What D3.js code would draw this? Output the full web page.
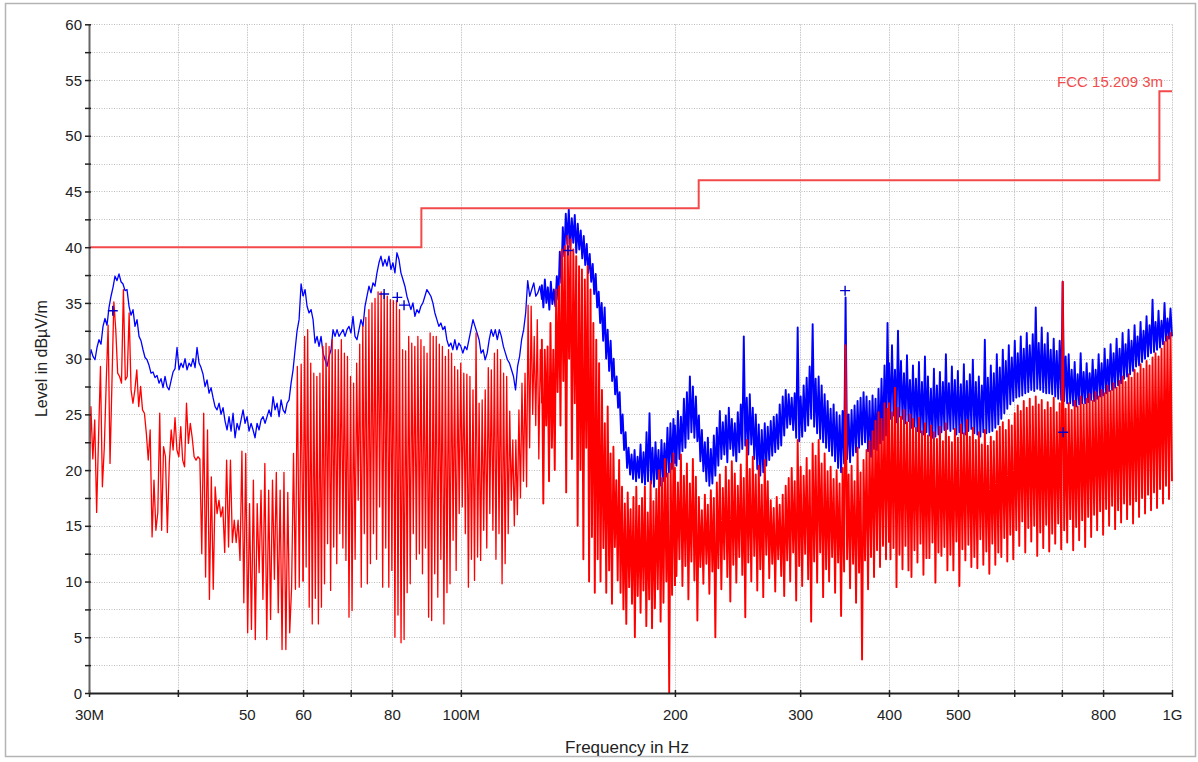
<!DOCTYPE html>
<html>
<head>
<meta charset="utf-8">
<script src="https://cdn.jsdelivr.net/npm/d3@7"></script>
<style>
  body { margin: 0; background: #fff; }
  svg { display: block; font-family: Arial, "Liberation Sans", sans-serif; }
</style>
</head>
<body>
<svg id="chart" width="1198" height="762"></svg>
<script>
// ---------- Axis ticks ----------
const xTickMHz    = [30, 40, 50, 60, 70, 80, 100, 200, 300, 400, 500, 600, 700, 800, 1000];
const xTickLabels = ["30M", "", "50", "60", "", "80", "100M", "200", "300", "400", "500", "", "", "800", "1G"];
const xGridMHz    = [40, 50, 60, 70, 80, 100, 200, 300, 400, 500, 600, 700, 800, 1000];
const yTicks      = [0, 2.5, 5, 7.5, 10, 12.5, 15, 17.5, 20, 22.5, 25, 27.5, 30, 32.5, 35, 37.5, 40, 42.5, 45, 47.5, 50, 52.5, 55, 57.5, 60];
const yTickLabels = [0, 5, 10, 15, 20, 25, 30, 35, 40, 45, 50, 55, 60];

// ---------- Limit line (FCC 15.209, 3 m) ----------
const limitMHz   = [30, 88, 88, 216, 216, 960, 960, 1000];
const limitLevel = [40, 40, 43.5, 43.5, 46, 46, 54, 54];
const limitName  = "FCC 15.209 3m";

// ---------- Peak trace (blue), dBµV/m, sweep points per band ----------
const blue30to60 = [
  29.6,30.8,30.2,29.9,31.0,31.7,31.3,32.9,33.6,33.0,
  34.6,35.6,36.4,37.4,37.0,37.6,36.9,36.7,36.1,36.2,
  34.7,33.9,34.4,32.9,33.5,32.0,31.6,30.8,30.1,29.9,
  29.4,28.7,28.8,28.3,28.5,27.8,28.2,27.4,28.4,27.5,
  27.2,28.0,28.8,29.1,31.0,29.0,29.6,29.2,30.0,29.0,
  29.6,29.3,30.0,29.2,31.0,29.6,29.2,28.6,27.5,28.1,
  26.9,27.4,26.5,25.7,25.4,26.0,25.0,25.6,24.4,23.6,
  24.8,23.5,25.1,22.9,24.2,23.6,24.5,25.4,24.2,24.8,
  23.5,24.2,23.6,22.9,24.2,23.6,24.5,24.8,24.2,24.8,
  25.4,24.8,26.6,25.4,26.0,24.8,26.3,25.4,25.1,26.0,
  26.3,27.8,29.0,30.8,32.5,33.5,36.7,35.6
];
const blue60to100 = [
  35.6,36.2,34.7,34.1,34.4,33.5,31.4,32.0,31.1,32.0,
  30.5,29.9,29.3,30.2,30.8,32.6,32.0,32.6,32.0,32.3,
  32.6,32.0,32.6,32.9,32.3,33.8,32.0,31.7,32.6,33.5,
  32.9,34.7,35.6,36.5,35.9,36.8,36.5,37.7,38.6,39.2,
  38.3,38.9,38.3,39.2,38.0,38.6,37.7,39.5,38.9,37.7,
  37.1,36.5,35.6,35.0,34.4,35.0,33.8,34.4,34.1,34.7,
  35.0,35.6,36.2,35.9,35.6,35.0,34.1,33.5,32.9,33.2,
  32.6,32.9,31.7,31.1,31.4,30.8,31.7,30.8,31.4,31.1
];
const blue100to130 = [
  31.1,30.5,31.1,30.8,31.7,32.6,33.5,32.9,32.3,31.7,
  30.5,30.8,29.9,30.5,31.7,32.6,32.0,32.6,31.7,32.6,
  32.0,31.1,30.5,29.9,29.6,29.0,28.4,27.2,29.3,30.2,
  31.7,32.6,34.1,37.0,35.6,36.2,36.8,35.6,35.9,36.5,
  35.3
];
const blue130to200 = [
  36.6,34.6, 37.1,35.0, 36.4,34.4, 36.9,34.9, 36.2,34.7, 37.4,35.3, 39.6,36.8, 41.8,39.2, 43.0,40.3, 43.4,40.0,
  42.6,40.4, 42.9,39.5, 42.1,39.8, 41.5,39.0, 41.0,38.4, 40.3,37.7, 39.4,36.9, 38.5,35.8, 37.6,34.6, 36.0,33.2,
  35.0,31.6, 34.6,30.0, 32.6,28.9, 31.6,28.0, 30.0,26.8, 28.4,25.6, 27.0,23.3, 25.0,21.8, 23.4,20.2, 22.0,19.6,
  21.4,19.2, 21.8,19.0, 21.2,19.3, 22.3,18.9, 21.6,18.7, 23.4,19.0, 25.1,18.8, 22.0,18.5, 22.5,19.2, 21.8,18.6,
  22.7,19.0, 22.4,19.4, 23.8,19.8, 24.2,20.1, 24.6,20.6
];
const blue200to400 = [
  24.0,20.4, 25.3,21.0, 24.8,21.7, 26.4,22.0, 27.0,22.8, 28.4,23.4, 27.5,22.9, 26.6,22.6, 24.9,20.8, 23.6,19.9,
  22.5,19.0, 22.9,18.6, 21.9,18.8, 23.1,19.5, 23.8,20.4, 25.3,21.0, 24.3,21.4, 24.9,20.7, 25.6,21.9, 24.6,21.3,
  24.2,20.8, 25.2,21.6, 25.9,21.9, 32.0,22.2, 26.5,21.4, 26.8,22.3, 25.6,21.0, 25.0,20.1, 24.1,19.5, 23.6,19.8,
  24.2,20.4, 23.9,20.9, 24.4,21.3, 24.8,21.6, 25.0,21.9, 25.9,22.2, 26.6,23.1, 27.2,23.8, 26.8,24.1, 26.5,23.6,
  26.9,22.9, 32.8,22.6, 26.6,23.0, 27.6,23.5, 28.3,24.0, 29.3,24.6, 33.1,23.9, 28.2,23.3, 28.4,22.8, 27.6,22.5,
  26.8,22.0, 26.2,21.7, 25.5,21.3, 25.9,20.8, 25.2,20.2, 24.9,19.8, 25.3,20.6, 35.5,21.0, 25.0,20.7, 25.4,21.3,
  25.8,21.6, 26.2,22.0, 26.5,22.3, 27.0,22.5, 26.6,21.7, 26.2,21.2, 26.7,21.9, 26.4,21.8, 27.3,22.4, 28.2,22.7,
  29.4,23.1, 33.2,23.9
];
const blue400to1000 = [
  29.6,24.6, 31.2,24.9, 29.0,24.3, 32.5,24.8, 29.8,24.6, 28.7,24.2, 30.3,24.4, 28.1,23.8, 29.4,23.9, 28.2,23.5,
  29.7,23.4, 27.9,23.2, 30.2,23.4, 28.4,23.1, 27.3,22.9, 29.1,23.0, 27.6,23.2, 28.8,23.4, 27.9,23.6, 30.4,23.7,
  27.8,23.5, 29.3,23.7, 28.1,23.2, 28.9,23.4, 27.7,23.3, 29.5,23.2, 28.0,23.5, 28.6,23.7, 29.9,23.3, 27.9,23.2,
  28.4,23.0, 27.6,23.4, 31.7,23.3, 28.3,23.4, 29.4,23.5, 28.7,23.8, 30.4,24.1, 29.2,24.6, 30.8,25.1, 29.8,25.5,
  31.2,25.9, 30.1,26.2, 31.6,26.5, 30.5,26.6, 32.0,26.7, 30.9,26.9, 32.3,27.0, 31.2,27.2, 32.2,27.1, 34.6,27.3,
  31.4,27.2, 32.8,27.0, 31.3,26.9, 32.3,26.9, 30.8,26.8, 31.8,26.6, 30.7,26.4, 31.6,26.3, 36.9,26.2, 30.2,26.0,
  30.4,26.0, 29.0,25.8, 29.7,25.7, 28.6,25.9, 30.5,26.0, 28.8,26.0, 29.6,26.1, 28.7,26.3, 29.9,26.2, 29.0,26.4,
  30.4,26.6, 29.6,26.7, 30.9,26.9, 29.9,27.1, 31.3,27.2, 30.5,27.4, 31.8,27.6, 30.9,27.8, 32.3,28.2, 31.3,28.4,
  32.6,28.6, 31.6,28.9, 33.0,29.3, 32.0,29.4, 33.3,29.7, 32.5,30.0, 33.8,30.2, 33.0,30.5, 35.3,30.6, 33.3,30.8,
  34.3,31.0, 33.4,31.3, 35.0,31.6, 33.6,31.8, 34.5,32.0
];

// ---------- Average trace (red), dBµV/m, sweep points per band ----------
const red30to60 = [
  17.5,25.7,21.0,24.5,16.2,23.0,29.3,18.5,22.0,27.8,
  33.0,20.6,27.8,35.1,32.6,28.7,28.4,27.8,36.2,28.1,
  28.4,34.1,27.2,26.0,27.2,29.0,25.7,27.5,25.4,25.1,
  23.3,20.9,23.6,14.0,19.1,14.6,16.2,25.1,14.6,22.1,
  21.2,14.4,20.6,23.6,21.8,24.7,21.8,21.2,23.9,20.9,
  20.3,26.0,22.4,24.2,22.9,21.2,20.9,21.2,21.0,12.5,
  25.1,10.4,23.6,8.4,19.4,9.3,18.5,16.1,17.3,15.8,
  16.7,12.6,20.9,13.1,20.9,13.5,15.5,13.5,15.5,11.9,
  21.7,8.1,21.5,5.4,17.0,5.7,19.1,4.8,17.0,10.8,
  18.2,8.4,20.6,4.8,18.2,6.6,19.1,10.2,19.8,7.2,
  18.2,3.9,19.8,3.9,18.0,5.4,9.5,21.5,9.3,29.3,
  9.5,29.5,10.0
];
const red60to130 = [
  10.0,32.0,11.3,32.6,7.7,29.6,6.2,28.7,8.5,28.4,
  6.2,28.7,7.7,31.1,9.8,31.4,13.4,31.1,9.2,31.7,
  13.1,30.8,11.6,30.8,14.3,31.7,13.0,30.5,11.9,30.2,
  6.8,28.4,7.4,27.8,12.0,29.6,17.3,31.3,9.5,32.9,
  14.3,33.7,9.8,34.4,11.6,35.0,14.3,35.4,12.0,36.0,
  16.7,36.0,9.5,35.9,13.0,35.6,9.5,35.3,11.0,35.2,
  5.0,35.2,7.0,34.4,4.5,30.8,4.8,30.7,9.0,32.0,
  9.8,31.4,14.3,31.1,12.0,32.0,12.5,31.7,10.7,31.1,
  13.0,30.5,6.8,32.3,6.5,32.0,10.7,32.0,8.6,31.3,
  12.0,31.1,6.2,30.2,9.0,30.8,9.8,30.5,13.7,29.3,
  11.0,29.0,16.1,29.6,16.7,28.7,14.3,28.6,9.5,28.4,
  12.0,27.2,10.1,32.3,12.2,26.0,11.9,26.3,14.6,27.2,
  13.0,29.2,16.1,29.0,14.6,30.5,12.0,30.8,14.3,29.9,
  9.8,28.7,11.6,28.4,14.3,25.3,17.3,22.7,15.0,22.7,
  16.0,25.4,17.5,27.8,19.0,28.7,18.5,34.8,22.0,34.7,
  25.0,32.0,24.0,33.5,21.0,30.8,26.0
];
const red130to200 = [
  31.7,17,30.8,24,31.1,19,33.2,22,30.8,20,
  36.2,27,36.5,24,39.8,28,40.1,18,41.0,30,
  40.7,21,39.8,26,39.2,15,38.3,20,38.0,12,
  37.1,22,38.3,10,36.2,14,33.2,9,31.7,12,
  29.6,10,27.2,13,24.2,9,25.7,11,21.5,8,
  22.1,13.1,19.1,10.1,20.9,9.0,18.5,7.5,17.0,6.2,
  18.0,9.5,16.5,8.0,17.6,5.0,18.5,8.7,16.8,7.2,
  17.5,9.2,18.5,6.0,16.2,8.4,19.0,5.8,17.2,7.6,
  18.3,9.3,20.0,6.4,19.3,8.1,21.0,10.0,19.7,0.0,
  20.6,8.8,21.5,9.6
];
const red200to400 = [
  20.2,10.5, 18.9,12.0, 21.4,9.6, 19.5,11.4, 20.6,8.4, 18.8,11.8, 21.0,10.1, 19.4,6.5, 17.6,11.3, 16.4,9.8,
  17.8,11.6, 16.9,8.9, 18.2,10.9, 17.5,5.0, 18.9,11.2, 19.6,9.3, 18.4,12.0, 20.3,10.4, 19.1,8.2, 20.8,11.5,
  19.7,9.9, 18.6,12.2, 20.5,10.6, 19.3,6.8, 22.7,11.7, 20.1,10.0, 21.2,12.3, 19.6,9.2, 20.4,11.1, 18.7,8.6,
  20.9,12.4, 19.0,10.3, 17.3,11.6, 16.6,9.1, 17.6,12.0, 16.9,10.5, 17.8,8.7, 18.6,11.9, 19.3,10.0, 20.2,12.6,
  19.0,8.3, 22.7,11.4, 20.3,9.6, 19.5,12.5, 21.1,10.2, 20.0,6.4, 22.4,11.8, 21.3,9.9, 22.7,12.6, 20.6,8.6,
  21.5,11.1, 19.9,10.0, 20.3,12.2, 19.2,9.0, 20.0,11.7, 18.8,6.9, 20.2,10.9, 31.2,12.0, 19.6,9.4, 20.4,11.6,
  19.0,8.1, 22.0,10.8, 19.8,3.0, 20.9,11.9, 21.8,9.3, 22.6,12.2, 23.5,10.4, 24.4,12.8, 25.2,11.3, 24.6,13.2,
  26.0,12.0, 25.5,13.5
];
const red400to1000 = [
  26.0,12.0, 25.2,13.0, 27.4,9.5, 25.6,12.4, 24.8,11.1, 25.4,13.2, 24.3,11.0, 25.0,10.4, 24.6,12.8, 23.8,11.7,
  24.7,13.4, 23.5,10.6, 24.2,12.1, 23.1,12.1, 24.0,13.5, 23.4,9.9, 22.8,12.6, 23.9,12.3, 22.6,13.1, 24.2,11.0,
  23.0,12.4, 22.5,11.0, 23.7,13.6, 22.9,9.6, 24.1,12.9, 23.3,11.9, 24.5,13.3, 23.0,11.3, 23.8,12.2, 22.7,11.2,
  23.4,13.8, 22.3,11.5, 23.6,12.7, 22.2,10.7, 23.0,13.4, 22.6,11.5, 23.5,12.6, 23.9,12.2, 24.3,13.9, 23.6,11.8,
  24.5,14.2, 24.0,12.0, 25.1,14.6, 25.8,13.2, 25.3,15.4, 26.2,12.6, 25.6,14.8, 26.4,13.6, 25.7,15.0, 26.6,12.3,
  25.9,14.4, 26.3,13.0, 25.4,15.1, 26.1,12.7, 25.6,14.3, 26.5,13.4, 25.2,15.2, 26.0,12.9, 36.9,14.6, 25.5,13.5,
  26.0,15.6, 25.4,12.8, 26.2,14.9, 25.7,13.7, 26.6,15.5, 25.9,13.1, 26.4,15.8, 26.8,14.0, 26.2,16.0, 27.0,14.6,
  26.6,16.3, 27.2,14.2, 26.9,16.5, 27.6,15.0, 27.1,16.8, 27.8,14.7, 27.4,16.4, 28.0,15.3, 28.4,17.0, 27.9,15.6,
  28.6,16.9, 28.3,15.2, 29.0,17.2, 28.7,15.8, 29.5,17.5, 29.1,16.1, 29.8,17.8, 29.4,16.4, 30.1,18.0, 30.5,16.6,
  30.2,18.3, 30.9,17.0, 31.5,18.6, 32.0,17.4, 32.3,19.0
];

// ---------- Final measurement markers ----------
const markerMHz   = [32.4, 78.0, 81.4, 83.2, 141.5, 347, 703];
const markerLevel = [34.3, 35.8, 35.5, 34.8, 39.7, 36.1, 23.4];

// Band table: [start MHz, stop MHz, readings]
const blueBands = [
  [30, 60, blue30to60], [60, 100, blue60to100], [100, 130, blue100to130],
  [130, 200, blue130to200], [200, 400, blue200to400], [400, 1000, blue400to1000]
];
const redBands = [
  [30, 60, red30to60], [60, 130, red60to130], [130, 200, red130to200],
  [200, 400, red200to400], [400, 1000, red400to1000]
];

// ---------- Drawing ----------
const svg = d3.select("#chart");
const MHZ = 1e6;
const plot = { left: 89, right: 1172, top: 24.3, bottom: 693 };

const x = d3.scaleLog().domain([30 * MHZ, 1000 * MHZ]).range([plot.left, plot.right]);
const y = d3.scaleLinear().domain([0, 60]).range([plot.bottom, plot.top]);

// sweep points of a band are log-spaced between its start and stop frequency
function bandPoints([f0, f1, vals]) {
  const n = vals.length;
  return vals.map((v, i) => ({ f: f0 * MHZ * Math.pow(f1 / f0, i / (n - 1)), v }));
}

// frame
svg.append("rect")
  .attr("x", 5.5).attr("y", 3.5).attr("width", 1190).attr("height", 753)
  .attr("fill", "none").attr("stroke", "#b4b4b4").attr("stroke-width", 1.5);

// grid
const grid = svg.append("g");
grid.selectAll("line.h").data(yTicks.filter(d => d > 0)).join("line")
  .attr("x1", plot.left).attr("x2", plot.right)
  .attr("y1", d => Math.round(y(d)) + 0.5).attr("y2", d => Math.round(y(d)) + 0.5)
  .attr("stroke", "#bdbdbd").attr("stroke-width", 1).attr("stroke-dasharray", "1,1.5");
grid.selectAll("line.v").data(xGridMHz).join("line")
  .attr("x1", d => Math.round(x(d * MHZ)) + 0.5).attr("x2", d => Math.round(x(d * MHZ)) + 0.5)
  .attr("y1", plot.top).attr("y2", plot.bottom)
  .attr("stroke", "#c8c8c8").attr("stroke-width", 1).attr("stroke-dasharray", "1.5,1");

// clip to the plot area
svg.append("defs").append("clipPath").attr("id", "plotClip")
  .append("rect").attr("x", plot.left).attr("y", plot.top - 1)
  .attr("width", plot.right - plot.left + 1).attr("height", plot.bottom - plot.top + 1);

const line = d3.line().x(d => x(d.f)).y(d => y(d.v));
const traces = svg.append("g").attr("clip-path", "url(#plotClip)");

// each band is its own path (joined to the previous band's last point);
// the densely sampled upper bands get a heavier stroke so they read as a solid band
function drawTrace(bands, color) {
  let prev = null;
  bands.forEach(band => {
    const pts = bandPoints(band);
    const data = prev ? [prev, ...pts] : pts;
    prev = pts[pts.length - 1];
    const dense = band[0] >= 130;
    traces.append("path").datum(data)
      .attr("d", line).attr("fill", "none")
      .attr("stroke", color)
      .attr("stroke-width", dense ? 1.9 : 1.3)
      .attr("stroke-linejoin", "round");
  });
}
drawTrace(blueBands, "#0000ff");
drawTrace(redBands, "#ff0000");

// limit line
const limitData = limitMHz.map((f, i) => ({ f: f * MHZ, v: limitLevel[i] }));
svg.append("path").datum(limitData)
  .attr("d", line).attr("fill", "none")
  .attr("stroke", "#f24a4a").attr("stroke-width", 2);
svg.append("text")
  .attr("x", x(1000 * MHZ) - 9).attr("y", y(54) - 4)
  .attr("text-anchor", "end").attr("font-size", 15).attr("fill", "#f24a4a")
  .text(limitName);

// markers
svg.append("g").selectAll("path").data(markerMHz).join("path")
  .attr("d", (f, i) => {
    const cx = x(f * MHZ), cy = y(markerLevel[i]);
    return `M${cx - 5},${cy}H${cx + 5}M${cx},${cy - 5}V${cy + 5}`;
  })
  .attr("stroke", "#0000cc").attr("stroke-width", 1.4).attr("fill", "none");

// x axis
const xAxis = d3.axisBottom(x)
  .tickValues(xTickMHz.map(d => d * MHZ))
  .tickFormat((d, i) => xTickLabels[i])
  .tickSizeOuter(0);
const gx = svg.append("g").attr("transform", `translate(0,${plot.bottom})`).call(xAxis);
gx.select(".domain").attr("stroke", "#222").attr("stroke-width", 2);
gx.selectAll(".tick line").attr("y1", -3).attr("y2", 4).attr("stroke", "#222").attr("stroke-width", 1.5);
gx.selectAll(".tick text").attr("y", 16).attr("dy", "0.71em")
  .attr("font-size", 15).attr("fill", "#222").attr("font-family", "Arial, 'Liberation Sans', sans-serif");

// y axis
const yAxis = d3.axisLeft(y)
  .tickValues(yTicks)
  .tickFormat(d => (yTickLabels.includes(d) ? d : ""))
  .tickSizeOuter(0);
const gy = svg.append("g").attr("transform", `translate(${plot.left},0)`).call(yAxis);
gy.select(".domain").attr("stroke", "#666").attr("stroke-width", 2);
gy.selectAll(".tick line").attr("x1", -4).attr("x2", 2).attr("stroke", "#222").attr("stroke-width", 1.5);
gy.selectAll(".tick text").attr("x", -7).attr("dy", "0.34em")
  .attr("font-size", 15).attr("fill", "#222").attr("font-family", "Arial, 'Liberation Sans', sans-serif");

// axis titles
svg.append("text")
  .attr("x", 627).attr("y", 753)
  .attr("text-anchor", "middle").attr("font-size", 17).attr("fill", "#222")
  .text("Frequency in Hz");
svg.append("text")
  .attr("transform", `translate(47,${(plot.top + plot.bottom) / 2}) rotate(-90)`)
  .attr("text-anchor", "middle").attr("font-size", 16).attr("fill", "#222")
  .text("Level in dBµV/m");
</script>
</body>
</html>
